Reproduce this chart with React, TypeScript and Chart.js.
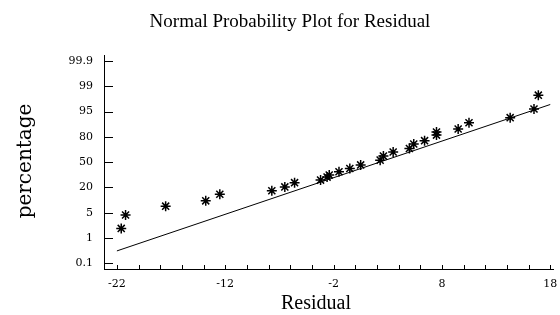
import React, { useEffect, useRef } from "react";
import { Chart, registerables } from "chart.js";

Chart.register(...registerables);

// Data
const residuals = [-21.6, -21.2, -17.5, -13.8, -12.5, -7.7, -6.5, -5.6, -3.2, -2.6, -2.4, -1.5, -0.5, 0.5, 2.3, 2.6, 3.5, 5.0, 5.4, 6.4, 7.5, 7.5, 9.5, 10.5, 14.3, 16.5, 16.9];
// position on the (evenly spaced) probability axis: 0 = 0.1%, 8 = 99.9%
const percentPos = [1.38, 1.91, 2.26, 2.47, 2.73, 2.87, 3.02, 3.19, 3.29, 3.41, 3.49, 3.62, 3.75, 3.89, 4.08, 4.24, 4.40, 4.54, 4.72, 4.85, 5.07, 5.19, 5.31, 5.56, 5.76, 6.10, 6.65];
const fitX = [-22, 18];
const fitY = [0.49, 6.28];
const yTickLabels = ["0.1", "1", "5", "20", "50", "80", "95", "99", "99.9"];
const yTickPos = [0, 1, 2, 3, 4, 5, 6, 7, 8];
const xMajorTicks = [-22, -12, -2, 8, 18];
const xMinorTicks = [-22, -20, -18, -16, -14, -12, -10, -8, -6, -4, -2, 0, 2, 4, 6, 8, 10, 12, 14, 16, 18];

const titleText = "Normal Probability Plot for Residual";
const xTitle = "Residual";
const yTitle = "percentage";

const decorPlugin = {
  id: "decor",
  afterDraw(chart: any) {
    const ctx = chart.ctx;
    const xs = chart.scales.x;
    const ys = chart.scales.y;
    const area = chart.chartArea;
    ctx.save();
    ctx.strokeStyle = "#000";
    ctx.lineWidth = 1;
    // inward tick marks on y axis
    yTickPos.forEach((v) => {
      const py = Math.round(ys.getPixelForValue(v)) + 0.5;
      ctx.beginPath();
      ctx.moveTo(area.left, py);
      ctx.lineTo(area.left + 9, py);
      ctx.stroke();
    });
    // inward tick marks on x axis
    xMinorTicks.forEach((v) => {
      const px = Math.round(xs.getPixelForValue(v)) + 0.5;
      ctx.beginPath();
      ctx.moveTo(px, area.bottom);
      ctx.lineTo(px, area.bottom - 4);
      ctx.stroke();
    });
    ctx.fillStyle = "#000";
    ctx.textAlign = "center";
    ctx.textBaseline = "middle";
    ctx.font = '19px "Liberation Serif"';
    ctx.fillText(titleText, 290, 22);
    ctx.font = '20px "Liberation Serif"';
    ctx.fillText(xTitle, 316, 304);
    ctx.translate(26, 161);
    ctx.rotate(-Math.PI / 2);
    ctx.font = '20px "DejaVu Serif"';
    ctx.fillText(yTitle, 0, 0);
    ctx.restore();
  },
};

export default function App() {
  const ref = useRef<HTMLCanvasElement | null>(null);
  useEffect(() => {
    if (!ref.current) return;
    const tickFont = { family: '"DejaVu Serif"', size: 11 };
    const chart = new Chart(ref.current, {
      type: "scatter",
      data: {
        datasets: [
          {
            type: "line",
            data: fitX.map((x, i) => ({ x, y: fitY[i] })),
            borderColor: "#000",
            borderWidth: 1,
            pointRadius: 0,
            fill: false,
          } as any,
          {
            data: residuals.map((x, i) => ({ x, y: percentPos[i] })),
            pointStyle: "star",
            pointRadius: 5,
            borderColor: "#000",
            backgroundColor: "#000",
            borderWidth: 1.5,
          },
        ],
      },
      options: {
        responsive: false,
        animation: false,
        devicePixelRatio: 1,
        layout: { padding: { top: 55, right: 4, left: 0, bottom: 0 } },
        plugins: { legend: { display: false }, tooltip: { enabled: false }, title: { display: false } },
        scales: {
          x: {
            type: "linear",
            min: -23.19,
            max: 18.3,
            grid: { display: false, drawTicks: false },
            border: { display: true, color: "#000", width: 1 },
            ticks: { color: "#000", font: tickFont, padding: 9, maxRotation: 0, autoSkip: false },
            afterBuildTicks: (s: any) => {
              s.ticks = xMajorTicks.map((v) => ({ value: v }));
            },
            afterFit: (s: any) => {
              s.height = 46;
              s.paddingLeft = 0;
              s.paddingRight = 0;
            },
          },
          y: {
            type: "linear",
            min: -0.225,
            max: 8.237,
            grid: { display: false, drawTicks: false },
            border: { display: true, color: "#000", width: 1 },
            ticks: {
              color: "#000",
              font: tickFont,
              padding: 11,
              autoSkip: false,
              callback: (v: any) => {
                const i = yTickPos.indexOf(Number(v));
                return i >= 0 ? yTickLabels[i] : "";
              },
            },
            afterBuildTicks: (s: any) => {
              s.ticks = yTickPos.map((v) => ({ value: v }));
            },
            afterFit: (s: any) => {
              s.width = 104;
              s.paddingTop = 0;
              s.paddingBottom = 0;
            },
          },
        },
      },
      plugins: [decorPlugin],
    });
    return () => chart.destroy();
  }, []);
  return (
    <div style={{ position: "fixed", left: 0, top: 0, width: 560, height: 315, background: "#fff" }}>
      <canvas ref={ref} width={560} height={315} style={{ display: "block" }} />
    </div>
  );
}
